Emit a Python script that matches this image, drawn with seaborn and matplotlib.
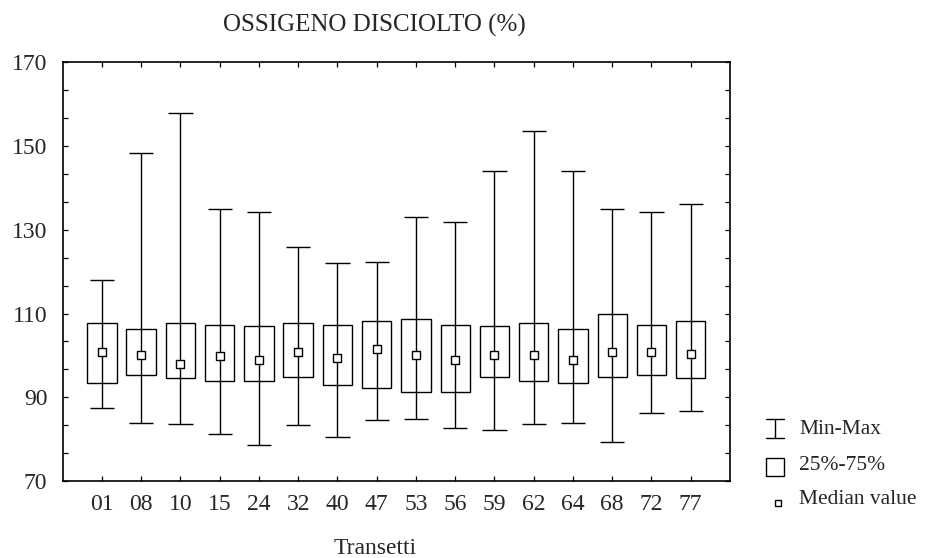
import numpy as np
import pandas as pd
import matplotlib
matplotlib.use("Agg")
import matplotlib.pyplot as plt
from matplotlib.lines import Line2D
from matplotlib.patches import Rectangle
import seaborn as sns

# Oxygen saturation statistics per transect
transetti = ["01", "08", "10", "15", "24", "32", "40", "47",
             "53", "56", "59", "62", "64", "68", "72", "77"]
minimo = [87.5, 83.8, 83.7, 81.3, 78.6, 83.4, 80.5, 84.6,
          84.8, 82.7, 82.1, 83.5, 83.8, 79.3, 86.2, 86.7]
q25 = [93.5, 95.3, 94.5, 94.0, 94.0, 94.9, 93.0, 92.2,
       91.3, 91.3, 94.9, 94.0, 93.5, 94.9, 95.3, 94.5]
mediana = [100.7, 100.2, 98.0, 99.8, 98.9, 100.7, 99.3, 101.6,
           100.2, 98.9, 100.2, 100.2, 98.9, 100.7, 100.7, 100.3]
q75 = [107.8, 106.4, 107.7, 107.3, 106.9, 107.7, 107.3, 108.2,
       108.6, 107.3, 106.9, 107.7, 106.4, 109.9, 107.3, 108.2]
massimo = [118.0, 148.4, 158.0, 135.0, 134.2, 125.9, 122.1, 122.4,
           133.1, 131.8, 144.0, 153.5, 144.1, 134.9, 134.2, 136.2]
yticks = [70, 90, 110, 130, 150, 170]

df = pd.DataFrame({
    "transetto": transetti,
    "pos": np.arange(len(transetti)),
    "min": minimo, "q25": q25, "med": mediana, "q75": q75, "max": massimo,
})

sns.set_style("ticks")
plt.rcParams["font.family"] = ["Liberation Serif", "DejaVu Serif"]
plt.rcParams["font.size"] = 15

W, H = 934, 558
fig = plt.figure(figsize=(W / 100, H / 100), dpi=100)
ax = fig.add_axes([62.7 / W, 1 - 481 / H, (730 - 62.7) / W, (481 - 62.3) / H])

lw = 1.0
box_w = 0.75
cap_w = 0.62

# Min-max range lines with caps
ax.vlines(df["pos"], df["min"], df["max"], color="black", lw=lw, zorder=2)
ax.hlines(df["min"], df["pos"] - cap_w / 2, df["pos"] + cap_w / 2, color="black", lw=lw, zorder=2)
ax.hlines(df["max"], df["pos"] - cap_w / 2, df["pos"] + cap_w / 2, color="black", lw=lw, zorder=2)

# Interquartile boxes (open)
ax.bar(df["pos"], df["q75"] - df["q25"], bottom=df["q25"], width=box_w,
       fill=False, edgecolor="black", linewidth=lw, zorder=3)

# Median markers
sns.scatterplot(data=df, x="pos", y="med", marker="s", s=36, color="white",
                edgecolor="black", linewidth=lw, zorder=4, ax=ax, legend=False)

ax.set_xlim(-1, len(transetti))
ax.set_ylim(70, 170)
ax.set_xticks(df["pos"])
ax.set_xticklabels(transetti)
ax.set_yticks(yticks)
step = (yticks[1] - yticks[0]) / 3
ax.set_yticks(np.arange(yticks[0], yticks[-1] + 0.01, step), minor=True)
ax.tick_params(axis="both", which="both", direction="in", length=3.5, width=0.9,
               top=True, right=True, labelsize=17, color="black")
ax.tick_params(axis="x", which="minor", top=False, bottom=False)
ax.tick_params(axis="x", pad=9)
ax.tick_params(axis="y", pad=11)
ax.set_xlabel("")
ax.set_ylabel("")
for sp in ax.spines.values():
    sp.set_visible(True)
    sp.set_linewidth(1.2)
    sp.set_color("black")

fig.text(374 / W, 1 - 25 / H, "OSSIGENO DISCIOLTO (%)", ha="center", va="center", fontsize=18)
fig.text(375 / W, 1 - 548 / H, "Transetti", ha="center", va="center", fontsize=17)

# Key on the right
def fx(px):
    return px / W

def fy(py):
    return 1 - py / H

fig.add_artist(Line2D([fx(775), fx(775)], [fy(419), fy(438)], color="black", lw=lw))
fig.add_artist(Line2D([fx(766), fx(784)], [fy(419), fy(419)], color="black", lw=lw))
fig.add_artist(Line2D([fx(766), fx(784)], [fy(438), fy(438)], color="black", lw=lw))
fig.text(fx(799), fy(429), "Min-Max", ha="left", va="center", fontsize=15.5)

fig.add_artist(Rectangle((fx(766), fy(476)), fx(18), 18 / H, fill=False,
                         edgecolor="black", lw=lw))
fig.text(fx(799), fy(466), "25%-75%", ha="left", va="center", fontsize=15.5)

fig.add_artist(Line2D([fx(778)], [fy(503)], marker="s", markersize=5,
                      markerfacecolor="white", markeredgecolor="black",
                      markeredgewidth=lw, linestyle="none"))
fig.text(fx(799), fy(500), "Median value", ha="left", va="center", fontsize=15.5)

fig.savefig("out.png", dpi=100)
